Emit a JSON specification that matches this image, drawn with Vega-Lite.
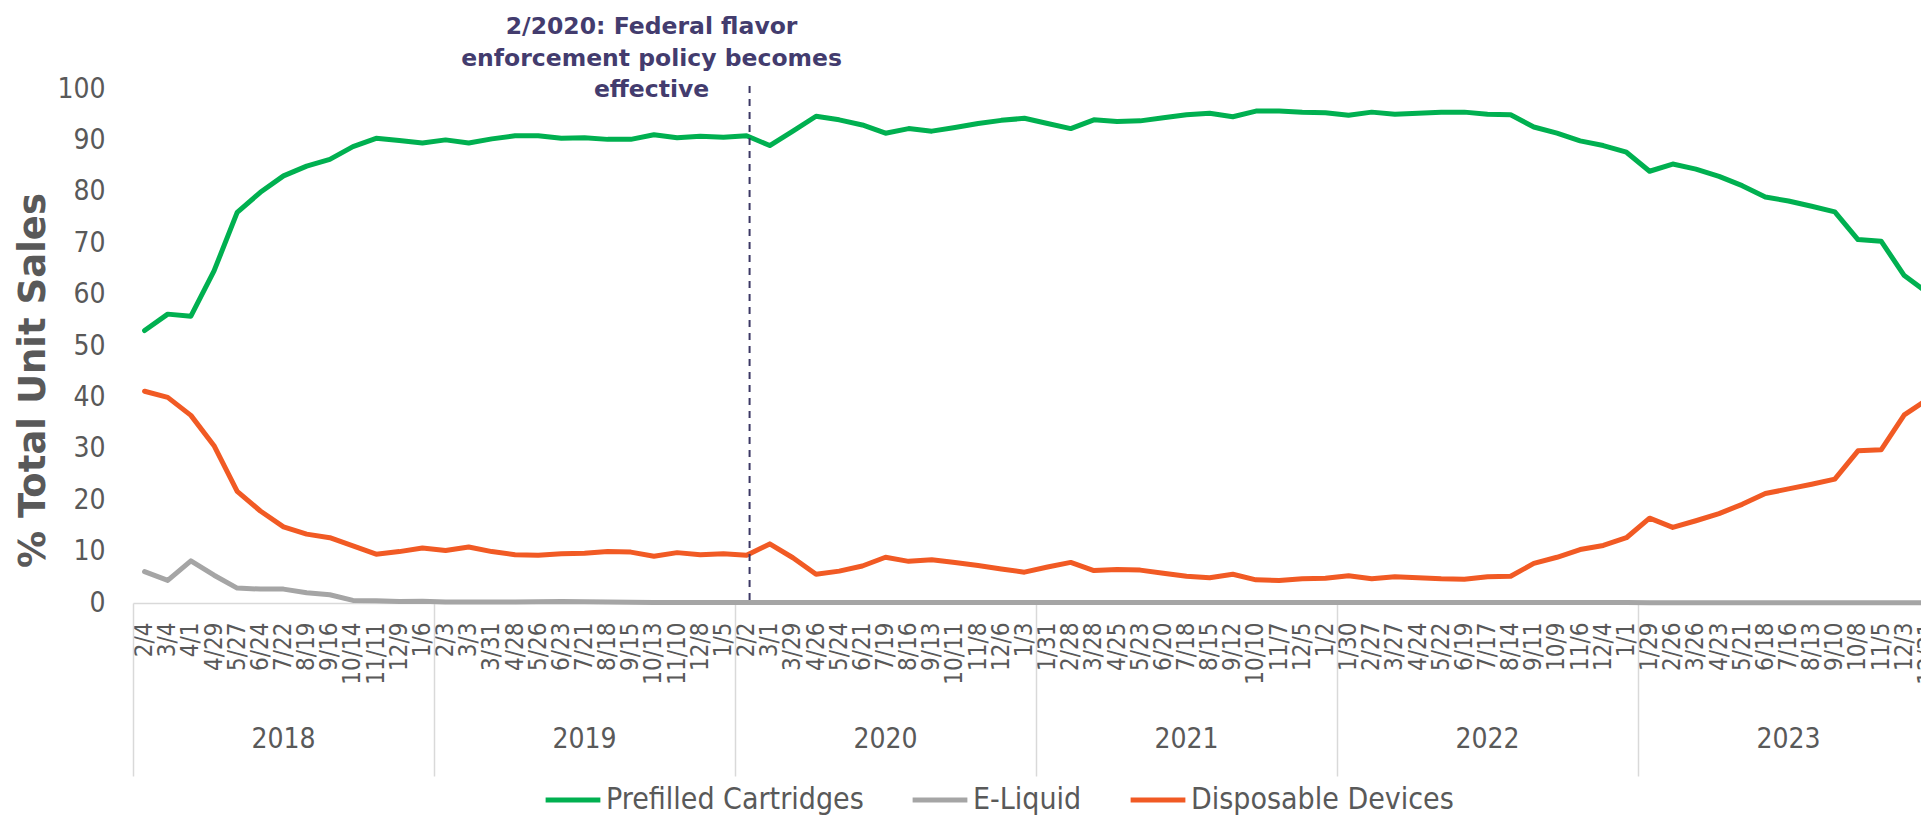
{
  "$schema": "https://vega.github.io/schema/vega-lite/v6.json",
  "autosize": "none",
  "padding": {"left": 133, "top": 89, "right": 0, "bottom": 212},
  "width": 1806,
  "height": 514,
  "config": {"view": {"stroke": null}, "font": "DejaVu Sans Condensed, Liberation Sans, sans-serif", "axis": {"grid": false}},
  "data": {"values": [
    {"date":"2018-02-04","year":"2018","Prefilled Cartridges":53.0,"E-Liquid":6.1,"Disposable Devices":41.2},
    {"date":"2018-03-04","year":"2018","Prefilled Cartridges":56.2,"E-Liquid":4.4,"Disposable Devices":40.0},
    {"date":"2018-04-01","year":"2018","Prefilled Cartridges":55.8,"E-Liquid":8.2,"Disposable Devices":36.5},
    {"date":"2018-04-29","year":"2018","Prefilled Cartridges":64.6,"E-Liquid":5.4,"Disposable Devices":30.6},
    {"date":"2018-05-27","year":"2018","Prefilled Cartridges":76.0,"E-Liquid":2.9,"Disposable Devices":21.7},
    {"date":"2018-06-24","year":"2018","Prefilled Cartridges":79.9,"E-Liquid":2.7,"Disposable Devices":17.9},
    {"date":"2018-07-22","year":"2018","Prefilled Cartridges":83.1,"E-Liquid":2.7,"Disposable Devices":14.8},
    {"date":"2018-08-19","year":"2018","Prefilled Cartridges":85.0,"E-Liquid":2.0,"Disposable Devices":13.4},
    {"date":"2018-09-16","year":"2018","Prefilled Cartridges":86.3,"E-Liquid":1.6,"Disposable Devices":12.7},
    {"date":"2018-10-14","year":"2018","Prefilled Cartridges":88.8,"E-Liquid":0.5,"Disposable Devices":11.1},
    {"date":"2018-11-11","year":"2018","Prefilled Cartridges":90.4,"E-Liquid":0.45,"Disposable Devices":9.5},
    {"date":"2018-12-09","year":"2018","Prefilled Cartridges":90.0,"E-Liquid":0.3,"Disposable Devices":10.0},
    {"date":"2019-01-06","year":"2018","Prefilled Cartridges":89.5,"E-Liquid":0.35,"Disposable Devices":10.7},
    {"date":"2019-02-03","year":"2019","Prefilled Cartridges":90.1,"E-Liquid":0.2,"Disposable Devices":10.2},
    {"date":"2019-03-03","year":"2019","Prefilled Cartridges":89.5,"E-Liquid":0.2,"Disposable Devices":10.9},
    {"date":"2019-03-31","year":"2019","Prefilled Cartridges":90.3,"E-Liquid":0.2,"Disposable Devices":10.0},
    {"date":"2019-04-28","year":"2019","Prefilled Cartridges":90.9,"E-Liquid":0.2,"Disposable Devices":9.4},
    {"date":"2019-05-26","year":"2019","Prefilled Cartridges":90.9,"E-Liquid":0.25,"Disposable Devices":9.3},
    {"date":"2019-06-23","year":"2019","Prefilled Cartridges":90.4,"E-Liquid":0.3,"Disposable Devices":9.6},
    {"date":"2019-07-21","year":"2019","Prefilled Cartridges":90.5,"E-Liquid":0.25,"Disposable Devices":9.7},
    {"date":"2019-08-18","year":"2019","Prefilled Cartridges":90.2,"E-Liquid":0.2,"Disposable Devices":10.0},
    {"date":"2019-09-15","year":"2019","Prefilled Cartridges":90.2,"E-Liquid":0.15,"Disposable Devices":9.9},
    {"date":"2019-10-13","year":"2019","Prefilled Cartridges":91.1,"E-Liquid":0.1,"Disposable Devices":9.1},
    {"date":"2019-11-10","year":"2019","Prefilled Cartridges":90.5,"E-Liquid":0.1,"Disposable Devices":9.8},
    {"date":"2019-12-08","year":"2019","Prefilled Cartridges":90.8,"E-Liquid":0.1,"Disposable Devices":9.4},
    {"date":"2020-01-05","year":"2019","Prefilled Cartridges":90.6,"E-Liquid":0.1,"Disposable Devices":9.6},
    {"date":"2020-02-02","year":"2020","Prefilled Cartridges":90.9,"E-Liquid":0.1,"Disposable Devices":9.3},
    {"date":"2020-03-01","year":"2020","Prefilled Cartridges":89.0,"E-Liquid":0.1,"Disposable Devices":11.5},
    {"date":"2020-03-29","year":"2020","Prefilled Cartridges":91.8,"E-Liquid":0.1,"Disposable Devices":8.8},
    {"date":"2020-04-26","year":"2020","Prefilled Cartridges":94.7,"E-Liquid":0.1,"Disposable Devices":5.6},
    {"date":"2020-05-24","year":"2020","Prefilled Cartridges":94.0,"E-Liquid":0.1,"Disposable Devices":6.2},
    {"date":"2020-06-21","year":"2020","Prefilled Cartridges":93.0,"E-Liquid":0.1,"Disposable Devices":7.2},
    {"date":"2020-07-19","year":"2020","Prefilled Cartridges":91.4,"E-Liquid":0.1,"Disposable Devices":8.9},
    {"date":"2020-08-16","year":"2020","Prefilled Cartridges":92.3,"E-Liquid":0.1,"Disposable Devices":8.1},
    {"date":"2020-09-13","year":"2020","Prefilled Cartridges":91.8,"E-Liquid":0.1,"Disposable Devices":8.4},
    {"date":"2020-10-11","year":"2020","Prefilled Cartridges":92.5,"E-Liquid":0.1,"Disposable Devices":7.9},
    {"date":"2020-11-08","year":"2020","Prefilled Cartridges":93.3,"E-Liquid":0.1,"Disposable Devices":7.3},
    {"date":"2020-12-06","year":"2020","Prefilled Cartridges":93.9,"E-Liquid":0.1,"Disposable Devices":6.6},
    {"date":"2021-01-03","year":"2020","Prefilled Cartridges":94.3,"E-Liquid":0.1,"Disposable Devices":6.0},
    {"date":"2021-01-31","year":"2021","Prefilled Cartridges":93.3,"E-Liquid":0.1,"Disposable Devices":7.0},
    {"date":"2021-02-28","year":"2021","Prefilled Cartridges":92.3,"E-Liquid":0.1,"Disposable Devices":7.9},
    {"date":"2021-03-28","year":"2021","Prefilled Cartridges":94.0,"E-Liquid":0.1,"Disposable Devices":6.3},
    {"date":"2021-04-25","year":"2021","Prefilled Cartridges":93.7,"E-Liquid":0.1,"Disposable Devices":6.5},
    {"date":"2021-05-23","year":"2021","Prefilled Cartridges":93.8,"E-Liquid":0.1,"Disposable Devices":6.4},
    {"date":"2021-06-20","year":"2021","Prefilled Cartridges":94.4,"E-Liquid":0.1,"Disposable Devices":5.8},
    {"date":"2021-07-18","year":"2021","Prefilled Cartridges":95.0,"E-Liquid":0.1,"Disposable Devices":5.2},
    {"date":"2021-08-15","year":"2021","Prefilled Cartridges":95.3,"E-Liquid":0.1,"Disposable Devices":4.9},
    {"date":"2021-09-12","year":"2021","Prefilled Cartridges":94.6,"E-Liquid":0.1,"Disposable Devices":5.6},
    {"date":"2021-10-10","year":"2021","Prefilled Cartridges":95.7,"E-Liquid":0.1,"Disposable Devices":4.5},
    {"date":"2021-11-07","year":"2021","Prefilled Cartridges":95.7,"E-Liquid":0.1,"Disposable Devices":4.4},
    {"date":"2021-12-05","year":"2021","Prefilled Cartridges":95.5,"E-Liquid":0.1,"Disposable Devices":4.7},
    {"date":"2022-01-02","year":"2021","Prefilled Cartridges":95.4,"E-Liquid":0.1,"Disposable Devices":4.8},
    {"date":"2022-01-30","year":"2022","Prefilled Cartridges":94.9,"E-Liquid":0.1,"Disposable Devices":5.3},
    {"date":"2022-02-27","year":"2022","Prefilled Cartridges":95.5,"E-Liquid":0.1,"Disposable Devices":4.7},
    {"date":"2022-03-27","year":"2022","Prefilled Cartridges":95.1,"E-Liquid":0.1,"Disposable Devices":5.1},
    {"date":"2022-04-24","year":"2022","Prefilled Cartridges":95.3,"E-Liquid":0.1,"Disposable Devices":4.9},
    {"date":"2022-05-22","year":"2022","Prefilled Cartridges":95.5,"E-Liquid":0.1,"Disposable Devices":4.7},
    {"date":"2022-06-19","year":"2022","Prefilled Cartridges":95.5,"E-Liquid":0.1,"Disposable Devices":4.6},
    {"date":"2022-07-17","year":"2022","Prefilled Cartridges":95.1,"E-Liquid":0.1,"Disposable Devices":5.1},
    {"date":"2022-08-14","year":"2022","Prefilled Cartridges":95.0,"E-Liquid":0.1,"Disposable Devices":5.2},
    {"date":"2022-09-11","year":"2022","Prefilled Cartridges":92.6,"E-Liquid":0.1,"Disposable Devices":7.7},
    {"date":"2022-10-09","year":"2022","Prefilled Cartridges":91.4,"E-Liquid":0.1,"Disposable Devices":8.9},
    {"date":"2022-11-06","year":"2022","Prefilled Cartridges":89.9,"E-Liquid":0.1,"Disposable Devices":10.4},
    {"date":"2022-12-04","year":"2022","Prefilled Cartridges":89.0,"E-Liquid":0.1,"Disposable Devices":11.2},
    {"date":"2023-01-01","year":"2022","Prefilled Cartridges":87.7,"E-Liquid":0.1,"Disposable Devices":12.7},
    {"date":"2023-01-29","year":"2023","Prefilled Cartridges":84.0,"E-Liquid":0.05,"Disposable Devices":16.5},
    {"date":"2023-02-26","year":"2023","Prefilled Cartridges":85.4,"E-Liquid":0.05,"Disposable Devices":14.7},
    {"date":"2023-03-26","year":"2023","Prefilled Cartridges":84.4,"E-Liquid":0.05,"Disposable Devices":16.0},
    {"date":"2023-04-23","year":"2023","Prefilled Cartridges":83.0,"E-Liquid":0.05,"Disposable Devices":17.4},
    {"date":"2023-05-21","year":"2023","Prefilled Cartridges":81.2,"E-Liquid":0.05,"Disposable Devices":19.2},
    {"date":"2023-06-18","year":"2023","Prefilled Cartridges":79.0,"E-Liquid":0.05,"Disposable Devices":21.3},
    {"date":"2023-07-16","year":"2023","Prefilled Cartridges":78.2,"E-Liquid":0.05,"Disposable Devices":22.2},
    {"date":"2023-08-13","year":"2023","Prefilled Cartridges":77.2,"E-Liquid":0.05,"Disposable Devices":23.1},
    {"date":"2023-09-10","year":"2023","Prefilled Cartridges":76.1,"E-Liquid":0.05,"Disposable Devices":24.1},
    {"date":"2023-10-08","year":"2023","Prefilled Cartridges":70.7,"E-Liquid":0.05,"Disposable Devices":29.6},
    {"date":"2023-11-05","year":"2023","Prefilled Cartridges":70.4,"E-Liquid":0.05,"Disposable Devices":29.8},
    {"date":"2023-12-03","year":"2023","Prefilled Cartridges":63.7,"E-Liquid":0.05,"Disposable Devices":36.6},
    {"date":"2023-12-31","year":"2023","Prefilled Cartridges":60.4,"E-Liquid":0.05,"Disposable Devices":39.6}
  ]},
  "layer": [
    {
      "layer": [
        {
          "transform": [{"fold": ["Prefilled Cartridges", "E-Liquid", "Disposable Devices"], "as": ["series", "value"]}],
          "mark": {"type": "line", "strokeWidth": 5, "strokeJoin": "round", "strokeCap": "round"},
          "encoding": {
            "x": {"field": "date", "type": "ordinal", "scale": {"type": "point", "padding": 0.5},
              "axis": {"title": null, "labelAngle": 270, "labelExpr": "toNumber(slice(datum.value,5,7)) + '/' + toNumber(slice(datum.value,8,10))",
                "labelFontSize": 24, "labelColor": "#595959", "ticks": false, "tickSize": 0, "labelPadding": 19,
                "domainColor": "#d9d9d9", "domainWidth": 1.5, "labelOverlap": false, "labelBound": false}},
            "y": {"field": "value", "type": "quantitative", "scale": {"domain": [0, 100], "nice": false},
              "axis": {"title": "% Total Unit Sales", "values": [0, 10, 20, 30, 40, 50, 60, 70, 80, 90, 100],
                "domain": false, "ticks": false, "tickSize": 0, "labelPadding": 28, "labelFontSize": 28, "labelColor": "#595959",
                "titleFont": "DejaVu Sans", "titleFontSize": 37, "titleFontWeight": "bold", "titleColor": "#595959", "titlePadding": 4, "titleY": 291}},
            "color": {"field": "series", "type": "nominal",
              "scale": {"domain": ["Prefilled Cartridges", "E-Liquid", "Disposable Devices"], "range": ["#00b050", "#a5a5a5", "#f15a24"]},
              "legend": {"title": null, "orient": "none", "legendX": 410, "legendY": 681, "direction": "horizontal",
                "symbolType": "stroke", "symbolStrokeWidth": 5, "symbolSize": 3000, "labelFontSize": 30, "labelColor": "#595959",
                "labelOffset": 3, "labelLimit": 0, "columnPadding": 38}}
          }
        },
        {
          "data": {"values": [{}]},
          "mark": {"type": "rule", "color": "#3c3865", "strokeWidth": 2, "strokeDash": [7, 6], "xOffset": 3},
          "encoding": {"x": {"datum": "2020-02-02", "type": "ordinal"}, "y": {"datum": 100.6, "type": "quantitative"}, "y2": {"datum": 0}}
        },
        {
          "data": {"values": [{}]},
          "mark": {"type": "text", "text": ["2/2020: Federal flavor", "enforcement policy becomes", "effective"],
            "font": "DejaVu Sans", "fontWeight": "bold", "fontSize": 23.5, "lineHeight": 31.5, "color": "#433c6e", "align": "center", "baseline": "top", "dx": -95, "dy": -74},
          "encoding": {"x": {"datum": "2020-02-02", "type": "ordinal"}, "y": {"datum": 100, "type": "quantitative"}}
        }
      ]
    },
    {
      "mark": {"type": "point", "opacity": 0},
      "encoding": {"x": {"field": "year", "type": "ordinal", "scale": {"type": "band", "paddingInner": 0, "paddingOuter": 0},
        "axis": {"orient": "bottom", "title": null, "labels": false, "domain": false, "bandPosition": 0, "tickSize": 173, "tickColor": "#d9d9d9", "tickWidth": 1.5}}}
    },
    {
      "mark": {"type": "point", "opacity": 0},
      "encoding": {"x": {"field": "year", "type": "ordinal", "scale": {"type": "band", "paddingInner": 0, "paddingOuter": 0},
        "axis": {"orient": "bottom", "title": null, "ticks": false, "tickSize": 0, "domain": false, "labelAngle": 0, "labelPadding": 122, "labelFontSize": 28, "labelColor": "#595959"}}}
    }
  ],
  "resolve": {"scale": {"x": "independent"}, "axis": {"x": "independent"}}
}
